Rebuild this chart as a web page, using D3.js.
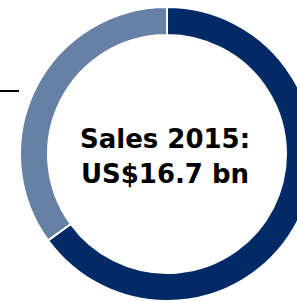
<!DOCTYPE html>
<html>
<head>
<meta charset="utf-8">
<script src="https://cdn.jsdelivr.net/npm/d3@7"></script>
<style>
  html, body { margin: 0; padding: 0; background: #fff; }
  svg { display: block; }
</style>
</head>
<body>
<svg id="chart" width="297" height="301"></svg>
<script>
// share of sales, in percent
var segments = ['Segment A', 'Segment B'];
var shares = [65, 35];
var colours = ['#022a66', '#6680a6'];
var centreLines = ['Sales 2015:', 'US$16.7 bn'];

var svg = d3.select('#chart');
var cx = 167, cy = 154;
var outerR = 147, innerR = 119;

var pie = d3.pie().sort(null).value(function(d) { return d; });
var arc = d3.arc().innerRadius(innerR).outerRadius(outerR);
var colour = d3.scaleOrdinal().domain(segments).range(colours);

var g = svg.append('g').attr('transform', 'translate(' + cx + ',' + cy + ')');

g.selectAll('path')
    .data(pie(shares))
    .enter()
    .append('path')
        .attr('d', arc)
        .attr('fill', function(d, i) { return colour(segments[i]); })
        .attr('stroke', '#fff')
        .attr('stroke-width', 2);

// leader line towards a label that sits off the picture
svg.append('line')
    .attr('x1', 0).attr('x2', 19)
    .attr('y1', 91).attr('y2', 91)
    .attr('stroke', '#000')
    .attr('stroke-width', 2);

g.selectAll('text.centre')
    .data(centreLines)
    .enter()
    .append('text')
        .attr('class', 'centre')
        .attr('x', -2)
        .attr('y', function(d, i) { return -6 + 35 * i; })
        .attr('text-anchor', 'middle')
        .style('font-family', 'Verdana, "DejaVu Sans", sans-serif')
        .style('font-weight', 'bold')
        .style('font-size', '26px')
        .text(function(d) { return d; });
</script>
</body>
</html>
